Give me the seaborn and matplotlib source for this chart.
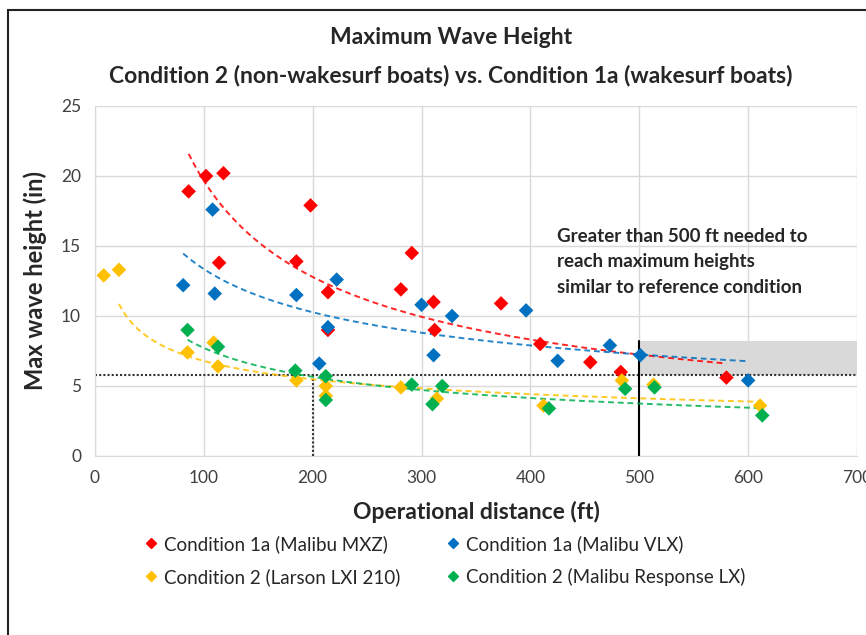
import numpy as np
import pandas as pd
import matplotlib
matplotlib.use("Agg")
import matplotlib.pyplot as plt
import seaborn as sns
from matplotlib.patches import Rectangle

# Data (distance in ft, max wave height in in)
mxz_x = [86, 102, 118, 114, 198, 185, 214, 214, 291, 281, 311, 312, 373, 409, 455, 483, 580]
mxz_y = [18.9, 20.0, 20.2, 13.8, 17.9, 13.9, 11.7, 9.0, 14.5, 11.9, 11.0, 9.0, 10.9, 8.0, 6.7, 6.0, 5.6]

vlx_x = [81, 108, 110, 185, 222, 214, 206, 300, 328, 311, 396, 425, 473, 501, 600]
vlx_y = [12.2, 17.6, 11.6, 11.5, 12.6, 9.2, 6.6, 10.8, 10.0, 7.2, 10.4, 6.8, 7.9, 7.2, 5.4]

larson_x = [8, 22, 85, 109, 113, 185, 212, 212, 281, 314, 412, 484, 513, 611]
larson_y = [12.9, 13.3, 7.4, 8.1, 6.4, 5.4, 5.0, 4.3, 4.9, 4.1, 3.6, 5.4, 5.1, 3.6]

resp_x = [85, 113, 184, 212, 212, 291, 310, 319, 417, 487, 514, 613]
resp_y = [9.0, 7.8, 6.1, 5.7, 4.0, 5.1, 3.7, 5.0, 3.4, 4.8, 4.9, 2.9]

labels = ["Condition 1a (Malibu MXZ)", "Condition 1a (Malibu VLX)",
          "Condition 2 (Larson LXI 210)", "Condition 2 (Malibu Response LX)"]
colors = ["#FF0000", "#0070C0", "#FFC000", "#00B050"]

ref_height = 5.8      # reference condition max height
ref_dist = 200
shade_top = 8.2
target_dist = 500

series = [(mxz_x, mxz_y), (vlx_x, vlx_y), (larson_x, larson_y), (resp_x, resp_y)]
df = pd.concat([pd.DataFrame({"x": sx, "y": sy, "boat": lab})
                for (sx, sy), lab in zip(series, labels)], ignore_index=True)

sns.set_style("whitegrid")
plt.rcParams["font.family"] = ["Lato", "DejaVu Sans"]

fig = plt.figure(figsize=(8.66, 6.35), dpi=100)
ax = fig.add_axes([95 / 866, 1 - 456 / 635, 762 / 866, 350 / 635])

# shaded target zone and reference lines
ax.add_patch(Rectangle((target_dist, ref_height), 700 - target_dist, shade_top - ref_height,
                       facecolor="#D9D9D9", edgecolor="none", zorder=1))
ax.axhline(ref_height, color="#333333", ls=(0, (1, 1)), lw=1.5, zorder=2)
ax.plot([ref_dist, ref_dist], [0, ref_height], color="#333333", ls=(0, (1, 1)), lw=1.5, zorder=2)
ax.plot([target_dist, target_dist], [0, shade_top], color="black", lw=1.5, zorder=2)

sns.scatterplot(data=df, x="x", y="y", hue="boat", palette=colors, marker="D",
                s=55, edgecolor="none", ax=ax, zorder=4, legend=False)

# power trendlines (like Excel); the Larson line starts at its second point
for i, ((sx, sy), c) in enumerate(zip(series, colors)):
    sx, sy = np.array(sx, float), np.array(sy, float)
    b, a = np.polyfit(np.log(sx), np.log(sy), 1)
    start = np.sort(sx)[1] if i == 2 else sx.min()
    xs = np.linspace(start, sx.max(), 200)
    ax.plot(xs, np.exp(a) * xs ** b, color=c, ls=(0, (3, 2)), lw=1.4, alpha=0.85, zorder=3)

ax.set_xlim(0, 700)
ax.set_ylim(0, 25)
ax.set_xticks(range(0, 701, 100))
ax.set_yticks(range(0, 26, 5))
ax.grid(color="#D9D9D9", lw=1)
for side in ["top", "right"]:
    ax.spines[side].set_visible(False)
for side in ["left", "bottom"]:
    ax.spines[side].set_color("#D9D9D9")
ax.tick_params(length=0, labelsize=12.5, colors="#404040", pad=10)
ax.set_xlabel("Operational distance (ft)", fontsize=16.5, fontweight="bold", labelpad=11)
ax.set_ylabel("Max wave height (in)", fontsize=17, fontweight="bold", labelpad=10)

ax.text(424, 16.3, "Greater than 500 ft needed to\nreach maximum heights\nsimilar to reference condition",
        fontsize=13.5, fontweight="bold", va="top", ha="left", linespacing=1.6)

fig.text(0.521, 1 - 37 / 635, "Maximum Wave Height", ha="center", va="center",
         fontsize=16.5, fontweight="bold")
fig.text(0.521, 1 - 75 / 635, "Condition 2 (non-wakesurf boats) vs. Condition 1a (wakesurf boats)",
         ha="center", va="center", fontsize=16.5, fontweight="bold")

# legend filled column by column, so order gives rows MXZ/VLX and Larson/Response
order = [0, 2, 1, 3]
handles = [plt.Line2D([], [], marker="D", ls="none", color=colors[i], markersize=5.5) for i in order]
ax.legend(handles, [labels[i] for i in order], ncol=2, frameon=False, loc="upper left",
          bbox_to_anchor=(140 / 866, 1 - 535 / 635), bbox_transform=fig.transFigure,
          fontsize=13.5, handletextpad=0.1, handlelength=1.2, columnspacing=2.2, labelspacing=0.8,
          borderpad=0, borderaxespad=0)

# chart area border
fig.add_artist(Rectangle((8 / 866, -0.05), 1.1, 1 - 10 / 635 + 0.05, transform=fig.transFigure,
                         facecolor="none", edgecolor="#222222", lw=1.5, clip_on=False))

fig.savefig("out.png", dpi=100)
